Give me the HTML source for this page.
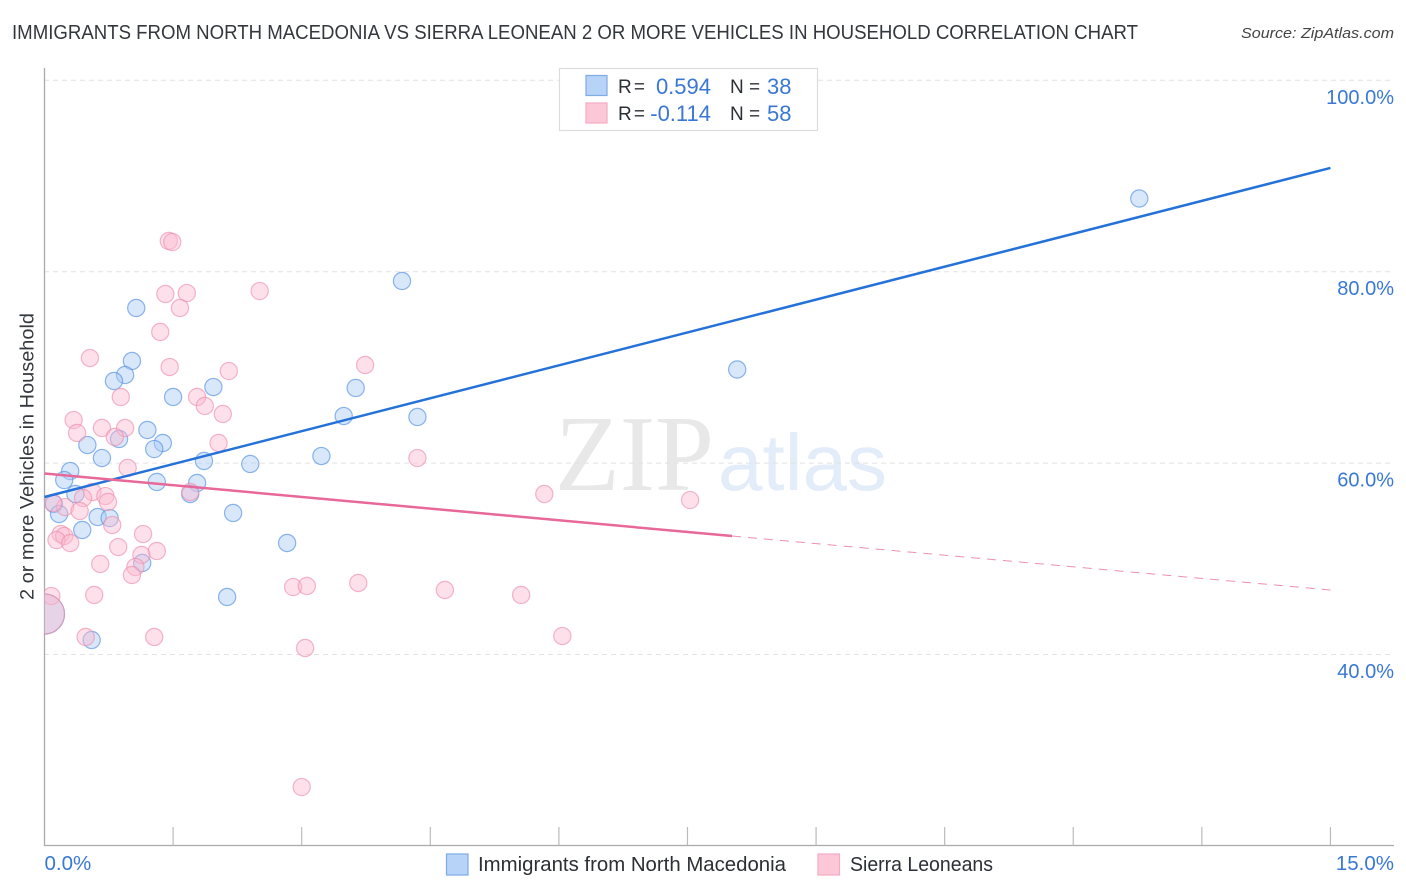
<!DOCTYPE html>
<html lang="en">
<head>
<meta charset="utf-8">
<title>Immigrants from North Macedonia vs Sierra Leonean 2 or more Vehicles in Household Correlation Chart</title>
<style>
html,body{margin:0;padding:0;background:#fff;}
svg{display:block;font-family:"Liberation Sans",sans-serif;}
</style>
</head>
<body>
<svg id="chart" xmlns="http://www.w3.org/2000/svg" width="1406" height="892" viewBox="0 0 1406 892">
  <defs>
    <clipPath id="plot-clip"><rect x="44.5" y="60" width="1350" height="785"/></clipPath>
  </defs>
  <text x="12" y="39" font-size="20" fill="#33373e" textLength="1126" lengthAdjust="spacingAndGlyphs">IMMIGRANTS FROM NORTH MACEDONIA VS SIERRA LEONEAN 2 OR MORE VEHICLES IN HOUSEHOLD CORRELATION CHART</text>
  <text x="1394" y="38" font-size="15" font-style="italic" fill="#444" text-anchor="end" textLength="153" lengthAdjust="spacingAndGlyphs">Source: ZipAtlas.com</text>
  <g>
    <text x="555" y="490" font-size="108" fill="#e8e8e8" style="font-family:'Liberation Serif',serif" textLength="159" lengthAdjust="spacingAndGlyphs">ZIP</text>
    <text x="718" y="490" font-size="80" fill="#e3ecf9" textLength="169" lengthAdjust="spacingAndGlyphs">atlas</text>
  </g>
  <g id="grid"></g>
  <g id="axes">
    <line x1="44.5" y1="68" x2="44.5" y2="846" stroke="#aaa" stroke-width="1.3"/>
    <line x1="44" y1="845.5" x2="1394" y2="845.5" stroke="#aaa" stroke-width="1.3"/>
  </g>
  <g id="points" clip-path="url(#plot-clip)"></g>
  <g id="trends"></g>
  <text transform="translate(33.5,456.5) rotate(-90)" font-size="19.5" fill="#33373e" text-anchor="middle" textLength="287" lengthAdjust="spacingAndGlyphs">2 or more Vehicles in Household</text>
  <g id="tick-labels"></g>
  <g>
    <rect x="559.5" y="68.5" width="258" height="62" fill="#fff" stroke="#dcdcdc" stroke-width="1.2"/>
    <rect x="586" y="75.5" width="21" height="20" fill="#b7d3f7" stroke="#7fabe6" stroke-width="1.2"/>
    <rect x="586" y="103" width="21" height="20" fill="#fcc8d8" stroke="#f5abc3" stroke-width="1.2"/>
    <text x="618" y="93" font-size="19" fill="#2b2f36" textLength="27" lengthAdjust="spacing">R =</text>
    <text x="711" y="94" font-size="22" fill="#3a78d6" text-anchor="end">0.594</text>
    <text x="730" y="93" font-size="19" fill="#2b2f36">N =</text>
    <text x="767" y="94" font-size="22" fill="#3a78d6">38</text>
    <text x="618" y="120" font-size="19" fill="#2b2f36" textLength="27" lengthAdjust="spacing">R =</text>
    <text x="711" y="121" font-size="22" fill="#3a78d6" text-anchor="end">-0.114</text>
    <text x="730" y="120" font-size="19" fill="#2b2f36">N =</text>
    <text x="767" y="121" font-size="22" fill="#3a78d6">58</text>
  </g>
  <g>
    <rect x="446.5" y="854" width="21.5" height="21" fill="#b7d3f7" stroke="#7fabe6" stroke-width="1.2"/>
    <text x="478" y="871" font-size="20" fill="#2b2f36" textLength="308" lengthAdjust="spacingAndGlyphs">Immigrants from North Macedonia</text>
    <rect x="818" y="854" width="21.5" height="21" fill="#fcc8d8" stroke="#f5abc3" stroke-width="1.2"/>
    <text x="850" y="871" font-size="20" fill="#2b2f36" textLength="143" lengthAdjust="spacingAndGlyphs">Sierra Leoneans</text>
  </g>
</svg>
<script>
const yGridValues = [100, 80, 60, 40];
const yTickLabels = ["100.0%", "80.0%", "60.0%", "40.0%"];
const xTickValues = [1.5, 3, 4.5, 6, 7.5, 9, 10.5, 12, 13.5, 15];
const xEndValues = [0, 15];
const xEndLabels = ["0.0%", "15.0%"];

const macedoniaX = [12.77,4.17,1.07,1.02,0.94,0.81,8.08,1.50,1.97,3.63,3.49,4.35,1.20,0.87,1.38,1.28,0.50,0.67,1.86,2.40,3.23,0.30,0.23,1.31,1.78,0.36,1.70,0.11,0.17,2.20,0.62,0.76,0.44,2.83,1.14,2.13,0.55,0.00];
const macedoniaY = [87.65,79.03,76.21,70.67,69.21,68.58,69.78,66.91,67.95,67.85,64.92,64.82,63.46,62.52,62.10,61.47,61.89,60.53,60.22,59.91,60.74,59.17,58.23,58.03,57.92,56.77,56.77,55.73,54.68,54.79,54.37,54.26,53.01,51.65,49.56,46.01,41.52,44.23];

const sierraX = [1.45,1.49,2.51,1.41,1.66,1.58,1.35,0.53,1.46,3.74,2.15,0.89,1.78,1.87,2.08,0.34,0.38,0.67,0.94,0.82,2.03,4.35,0.97,0.56,0.45,0.71,0.74,0.24,0.41,0.79,1.15,0.19,0.23,0.14,0.30,0.86,1.31,1.13,1.06,0.65,1.02,0.08,0.58,0.48,1.28,1.70,0.10,0.00,5.83,7.53,2.90,3.06,3.66,4.67,5.56,6.04,3.04,3.00];
const sierraY = [83.21,83.10,77.98,77.67,77.77,76.21,73.70,70.98,70.04,70.25,69.62,66.91,66.91,65.97,65.13,64.50,63.15,63.67,63.67,62.73,62.10,60.53,59.49,56.98,56.35,56.56,55.94,55.41,55.00,53.53,52.59,52.59,52.38,51.96,51.65,51.23,50.82,50.40,49.14,49.46,48.31,46.11,46.22,41.83,41.83,56.98,55.83,44.23,56.77,56.14,47.05,47.16,47.47,46.74,46.22,41.93,40.68,26.15];

const macedoniaTrendX = [0, 15];
const macedoniaTrendY = [56.46, 90.84];
const sierraTrendSolidX = [0, 8.02];
const sierraTrendSolidY = [58.91, 52.38];
const sierraTrendDashedX = [8.02, 15];
const sierraTrendDashedY = [52.38, 46.74];

const SVG_NS = "http://www.w3.org/2000/svg";
function xScale(v) { return 44.5 + v * 85.73; }
function yScale(v) { return 654.5 - (v - 40) * 9.57; }
function make(tag, attrs, parent) {
  const el = document.createElementNS(SVG_NS, tag);
  for (const k in attrs) el.setAttribute(k, attrs[k]);
  parent.appendChild(el);
  return el;
}

const gridGroup = document.getElementById("grid");
const axesGroup = document.getElementById("axes");
const labelGroup = document.getElementById("tick-labels");
const pointGroup = document.getElementById("points");
const trendGroup = document.getElementById("trends");

yGridValues.forEach(function (v, i) {
  const line = make("line", {x1: 44, x2: 1394, y1: yScale(v), y2: yScale(v), stroke: "#e2e2e2", "stroke-width": 1, "stroke-dasharray": "5 4"}, gridGroup);
  
  
  const label = make("text", {x: 1394, y: yScale(v) + 23.5, "font-size": 20, fill: "#3a78d6", "text-anchor": "end"}, labelGroup);
  
  
  label.textContent = yTickLabels[i];
});

xTickValues.forEach(function (v) {
  const tick = make("line", {x1: xScale(v), x2: xScale(v), y1: 827, y2: 845, stroke: "#bbb", "stroke-width": 1.2}, axesGroup);
  
  
});

xEndValues.forEach(function (v, i) {
  const label = make("text", {x: i === 0 ? xScale(v) : 1394, y: 870, "font-size": 20.5, fill: "#3a78d6", "text-anchor": i === 0 ? "start" : "end"}, labelGroup);
  
  
  label.textContent = xEndLabels[i];
});

function drawSeries(xs, ys, fill, stroke, largeIndex, name) {
  xs.forEach(function (x, i) {
    const c = make("circle", {
      cx: xScale(x), cy: yScale(ys[i]), r: i === largeIndex ? 20 : 8.6,
      fill: fill, "fill-opacity": 0.45, stroke: stroke, "stroke-opacity": 0.62, "stroke-width": 1.2
    }, pointGroup);
    
    
  });
}
drawSeries(macedoniaX, macedoniaY, "#a9caf4", "#4a8ae0", macedoniaX.length - 1, "point-macedonia");
drawSeries(sierraX, sierraY, "#fbbbd0", "#ee8aaa", sierraX.length - 11, "point-sierra-leone");

function drawTrend(xs, ys, stroke, width, dash, opacity, name) {
  const line = make("line", {
    x1: xScale(xs[0]), y1: yScale(ys[0]), x2: xScale(xs[1]), y2: yScale(ys[1]),
    stroke: stroke, "stroke-width": width, "stroke-opacity": opacity
  }, trendGroup);
  if (dash) line.setAttribute("stroke-dasharray", dash);
  
  
}
drawTrend(macedoniaTrendX, macedoniaTrendY, "#2472d9", 2.5, null, 1, "trend-line-macedonia");
drawTrend(sierraTrendSolidX, sierraTrendSolidY, "#e8689a", 2.5, null, 1, "trend-line-sierra-leone");
drawTrend(sierraTrendDashedX, sierraTrendDashedY, "#e8689a", 1, "9 7", 0.75, "trend-line-sierra-leone-projection");
</script>
</body>
</html>
